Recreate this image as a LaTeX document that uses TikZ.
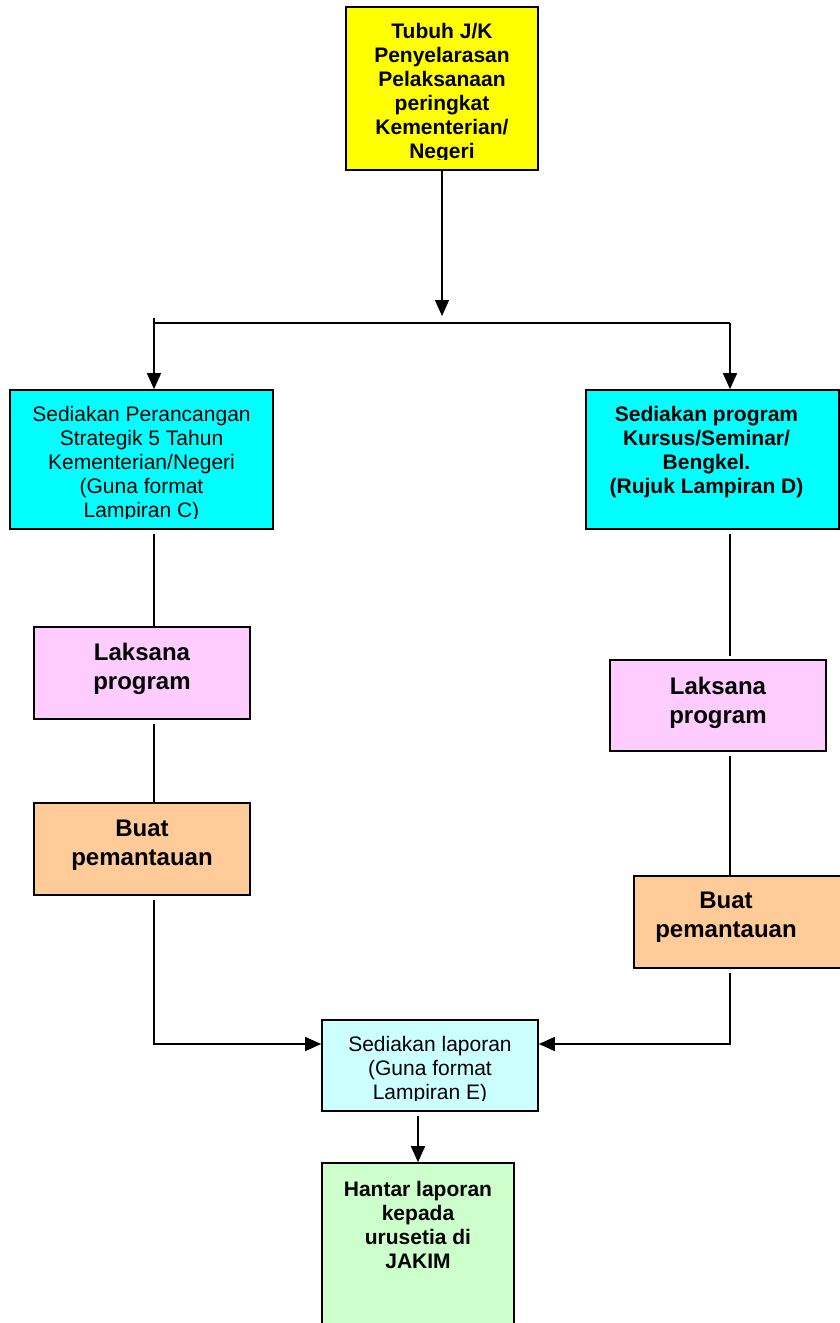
\documentclass[tikz,border=0pt]{standalone}
\usepackage{fontspec}
\setmainfont{Liberation Sans}
\usetikzlibrary{arrows.meta,positioning}
\definecolor{box_yell}{RGB}{255,255,0}
\definecolor{box_cyan}{RGB}{0,255,255}
\definecolor{box_pink}{RGB}{255,204,255}
\definecolor{box_orng}{RGB}{255,204,153}
\definecolor{box_lcyan}{RGB}{204,255,255}
\definecolor{box_lgrn}{RGB}{204,255,204}

\begin{document}
\begin{tikzpicture}[x=1pt,y=-1pt,line width=1.4pt,>={Triangle[length=16pt,width=14pt]}]
    \tikzstyle{stepbox}=[draw=black, line width=1.6pt, rectangle, inner sep=0pt]
    \tikzstyle{wide}=[minimum width=216pt, minimum height=92pt]
    \tikzstyle{txt}=[align=center, inner sep=0pt, font=\fontsize{21}{24}\selectfont]
    \tikzstyle{txtbf}=[style=txt, font=\fontsize{21}{24}\selectfont\bfseries]
    \tikzstyle{txtbig}=[style=txt, font=\fontsize{24}{29}\selectfont\bfseries]

    \useasboundingbox (0,0) rectangle (840,1323);

    % boxes
    \node[stepbox,fill=box_yell,minimum width=192pt,minimum height=163pt] (tubuh)  at (442,88.5)  {};
    \node[stepbox,fill=box_cyan,minimum width=263pt,minimum height=139pt] (strat)  at (141.5,459.5) {};
    \node[stepbox,fill=box_cyan,minimum width=253pt,minimum height=139pt] (kursus) at (712.5,459.5) {};
    \node[stepbox,wide,fill=box_pink]                                     (lakL)   at (142,673)   {};
    \node[stepbox,wide,fill=box_orng]                                     (buatL)  at (142,849)   {};
    \node[stepbox,wide,fill=box_pink,minimum height=91pt]                 (lakR)   at (718,705.5) {};
    \node[stepbox,wide,fill=box_orng]                                     (buatR)  at (742,922)   {};
    \node[stepbox,wide,fill=box_lcyan,minimum height=91pt]                (lapor)  at (430,1065.5) {};
    \node[stepbox,fill=box_lgrn,minimum width=192pt,minimum height=200pt] (hantar) at (418,1263)  {};

    % texts
    \begin{scope}
      \clip (tubuh.north west) rectangle ([yshift=11pt]tubuh.south east);
      \node[txtbf, below=16pt of tubuh.north] (tubuhtxt)
        {Tubuh J/K\\Penyelarasan\\Pelaksanaan\\peringkat\\Kementerian/\\Negeri};
    \end{scope}
    \begin{scope}
      \clip (strat.north west) rectangle ([yshift=11pt]strat.south east);
      \node[txt, below=16pt of strat.north] (strattxt)
        {Sediakan Perancangan\\Strategik 5 Tahun\\Kementerian/Negeri\\(Guna format\\Lampiran C)};
    \end{scope}
    \node[txtbf, below=16pt of kursus.north, xshift=-6pt] (kursustxt)
      {Sediakan program\\Kursus/Seminar/\\Bengkel.\\(Rujuk Lampiran D)};
    \node[txtbig, below=16pt of lakL.north]  (lakLtxt)  {Laksana\\program};
    \node[txtbig, below=17pt of buatL.north] (buatLtxt) {Buat\\pemantauan};
    \node[txtbig, below=17pt of lakR.north]  (lakRtxt)  {Laksana\\program};
    \node[txtbig, below=16pt of buatR.north, xshift=-16pt] (buatRtxt) {Buat\\pemantauan};
    \begin{scope}
      \clip (lapor.north west) rectangle ([yshift=11pt]lapor.south east);
      \node[txt, below=16pt of lapor.north] (laportxt)
        {Sediakan laporan\\(Guna format\\Lampiran E)};
    \end{scope}
    \node[txtbf, below=18pt of hantar.north] (hantartxt)
      {Hantar laporan\\kepada\\urusetia di\\JAKIM};

    % connectors
    \coordinate (split) at (442,316);
    \coordinate (lt)    at (154,318);
    \coordinate (brL)   at (154,323);
    \coordinate (brR)   at (730,323);
    \coordinate (jL)    at (154,1044);
    \coordinate (jR)    at (730,1044);

    \draw[->] (tubuh.south) -- (split);
    \draw (brL) -- (brR);
    \draw[->] (lt) -- (lt |- strat.north);
    \draw[->] (brR) -- (brR |- kursus.north);

    \draw ([yshift=-4pt]strat.south -| lt) -- (lakL.north -| lt);
    \draw ([yshift=-4pt]lakL.south -| lt) -- (buatL.north -| lt);
    \draw[->] ([yshift=-4pt]buatL.south -| lt) -- (jL) -- (jL -| lapor.west);

    \draw ([yshift=-4pt]kursus.south -| brR) -- ([yshift=3pt]lakR.north -| brR);
    \draw ([yshift=-4pt]lakR.south -| brR) -- (buatR.north -| brR);
    \draw[->] ([yshift=-4pt]buatR.south -| brR) -- (jR) -- (jR -| lapor.east);

    \draw[->] ([yshift=-4pt]lapor.south -| hantar.north) -- (hantar.north);
\end{tikzpicture}
\end{document}
